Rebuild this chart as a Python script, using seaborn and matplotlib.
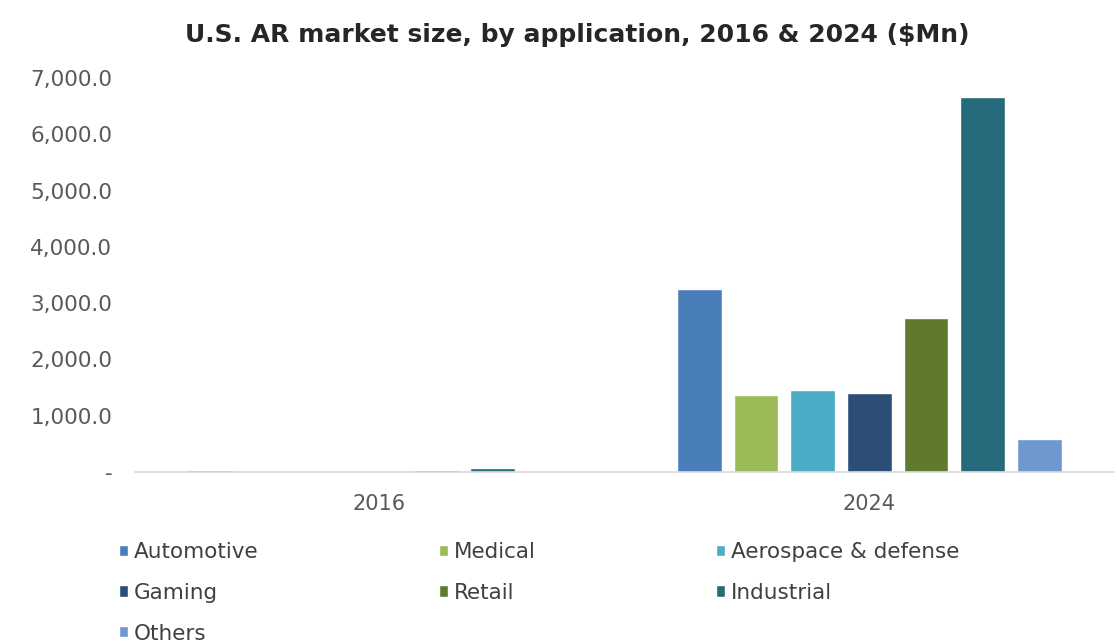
import matplotlib
matplotlib.use("Agg")
import matplotlib.pyplot as plt
import matplotlib.ticker as mticker
import seaborn as sns
import pandas as pd

# Market size by application ($Mn)
years = ["2016", "2024"]
applications = ["Automotive", "Medical", "Aerospace & defense", "Gaming",
                "Retail", "Industrial", "Others"]
size_2016 = [38, 6, 7, 6, 40, 80, 8]
size_2024 = [3250, 1370, 1460, 1400, 2730, 6660, 590]
colors = ["#4A7EBB", "#9BBB59", "#4BACC6", "#2C4D75",
          "#5F7A2E", "#266B7B", "#6F98D0"]
y_ticks = [0, 1000, 2000, 3000, 4000, 5000, 6000, 7000]

rows = []
for yr, vals in zip(years, [size_2016, size_2024]):
    for app, v in zip(applications, vals):
        rows.append({"Year": yr, "Application": app, "Value": v})
df = pd.DataFrame(rows)

sns.set_theme(style="white")
plt.rcParams["font.family"] = ["DejaVu Sans"]

fig = plt.figure(figsize=(11.17, 6.44), dpi=100)
ax = fig.add_axes([0.1205, 0.267, 0.877, 0.612])

sns.barplot(data=df, x="Year", y="Value", hue="Application",
            hue_order=applications, palette=colors, width=0.81,
            gap=0.21, saturation=1, ax=ax, legend=True)

ax.set_ylim(0, 7000)
ax.set_yticks(y_ticks)
ax.yaxis.set_major_formatter(mticker.FuncFormatter(
    lambda v, p: "-" if v == 0 else f"{v:,.1f}"))
ax.tick_params(axis="y", length=0, pad=16, labelsize=15.5, labelcolor="#595959")
ax.tick_params(axis="x", length=0, pad=16, labelsize=15, labelcolor="#595959")
ax.set_xlabel("")
ax.set_ylabel("")
for side in ["left", "right", "top"]:
    ax.spines[side].set_visible(False)
ax.spines["bottom"].set_color("#D9D9D9")
ax.spines["bottom"].set_linewidth(1.2)

fig.text(0.517, 0.945, "U.S. AR market size, by application, 2016 & 2024 ($Mn)",
         ha="center", va="center", fontsize=18, fontweight="bold",
         color="#262626")

# Row-major legend layout in three columns
handles, labels = ax.get_legend_handles_labels()
ax.get_legend().remove()
order = [0, 3, 6, 1, 4, 2, 5]
leg = fig.legend([handles[i] for i in order], [labels[i] for i in order],
                 ncol=3, loc="upper left", bbox_to_anchor=(0.099, 0.172),
                 frameon=False, fontsize=15.5, handlelength=0.42,
                 handleheight=0.42, handletextpad=0.25, columnspacing=8.4,
                 labelspacing=0.97, borderaxespad=0)
for t in leg.get_texts():
    t.set_color("#404040")

fig.savefig("out.png", dpi=100)
